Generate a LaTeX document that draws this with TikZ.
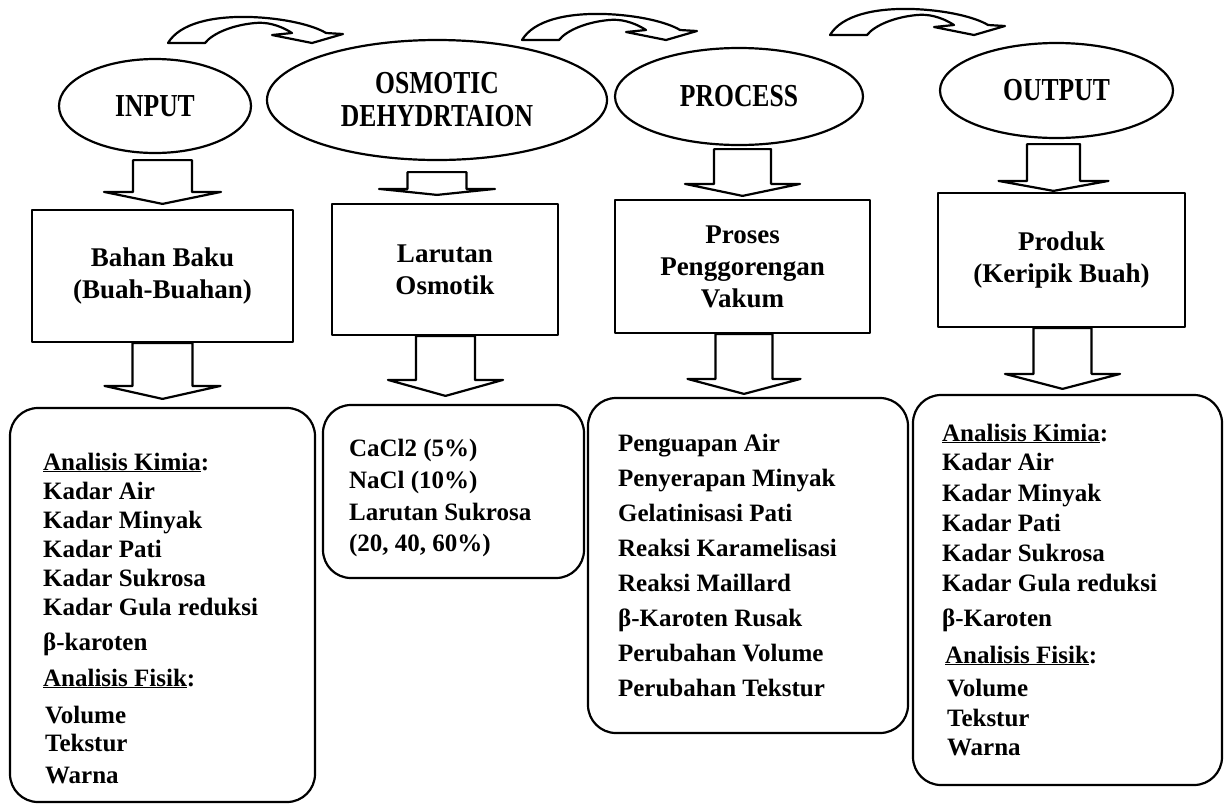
\documentclass[tikz,border=0pt]{standalone}
\usepackage{fontspec}
\setmainfont{Liberation Serif}
\newfontfamily\headfont[FakeStretch=0.8]{Liberation Serif Bold}
\usetikzlibrary{calc,shapes.geometric}
\newcommand\barrow[8]{% from, to, gapTop, gapBottom, shaft half width, head half width, head height, x offset
  \draw[fill=white] let \p1=(#1), \p2=(#2) in
   (\x2+#8pt-#5pt,\y1-#3pt) -- (\x2+#8pt+#5pt,\y1-#3pt) -- (\x2+#8pt+#5pt,\y2+#4pt+#7pt)
   -- (\x2+#8pt+#6pt,\y2+#4pt+#7pt) -- (\x2+#8pt,\y2+#4pt) -- (\x2+#8pt-#6pt,\y2+#4pt+#7pt)
   -- (\x2+#8pt-#5pt,\y2+#4pt+#7pt) -- cycle;}
\begin{document}
\begin{tikzpicture}[x=1pt,y=-1pt,line width=2.2pt,line join=round,
  hd/.style={draw,ellipse,inner sep=0pt,font=\headfont\fontsize{32}{33}\selectfont,align=center},
  bx/.style={draw,rectangle,inner sep=0pt,font=\bfseries\fontsize{27}{32}\selectfont,align=center},
  lst/.style={draw,rectangle,rounded corners=28pt,inner sep=0pt},
  li/.style={anchor=base west,inner sep=0pt,font=\bfseries\fontsize{25}{30}\selectfont},
  curv/.pic={
    \draw[fill=white] (0,0) .. controls (12,-20) and (45,-27) .. (82,-26)
      .. controls (115,-25) and (145,-18) .. (158,-10) -- (175,-9) -- (144,0) -- (104,-8) -- (124,-10)
      .. controls (110,-19) and (97,-21) .. (87,-20) .. controls (65,-18) and (45,-10) .. (37,0) -- cycle;
  }]
\useasboundingbox (0,0) rectangle (1232,807);
% top curved arrows
\pic at (168,43) {curv};
\pic at (522,40) {curv};
\pic at (830,35) {curv};
% heading ellipses
\node[hd,minimum width=192pt,minimum height=94pt] (in) at (155,106) {\raisebox{-11pt}{INPUT}};
\node[hd,minimum width=340pt,minimum height=120pt] (osm) at (437,100) {\raisebox{-5pt}{OSMOTIC}\\\raisebox{-5pt}{DEHYDRTAION}};
\node[hd,minimum width=248pt,minimum height=97pt] (proc) at (739,96.5) {PROCESS};
\node[hd,minimum width=233pt,minimum height=95pt] (out) at (1056.5,90.5) {\raisebox{-5pt}{OUTPUT}};
% middle boxes
\node[bx,minimum width=261pt,minimum height=132pt] (bb) at (162.5,276) {Bahan Baku\\(Buah-Buahan)};
\node[bx,minimum width=226pt,minimum height=131pt] (lar) at (445,269.5) {Larutan\\Osmotik};
\node[bx,minimum width=255pt,minimum height=133pt] (pros) at (742.5,266.5) {Proses\\Penggorengan\\Vakum};
\node[bx,minimum width=247pt,minimum height=134pt] (prod) at (1061.5,260) {Produk\\(Keripik Buah)};
% list boxes
\node[lst,minimum width=305pt,minimum height=394pt] (L1) at (162.5,605) {};
\node[lst,minimum width=261pt,minimum height=173pt] (L2) at (453.5,491.5) {};
\node[lst,minimum width=320pt,minimum height=335pt] (L3) at (748,565.5) {};
\node[lst,minimum width=309pt,minimum height=390pt] (L4) at (1067.5,590) {};
% block arrows
\barrow{in.south}{bb.north}{6}{5}{29.5}{58.5}{12}{0}
\barrow{osm.south}{lar.north}{11}{8}{29.5}{58}{6}{-8}
\barrow{proc.south}{pros.north}{3}{3}{28.5}{57.5}{12}{0}
\barrow{out.south}{prod.north}{5}{1}{26.5}{55}{10}{-8}
\barrow{bb.south}{L1.north}{0}{8}{30}{58}{13}{0}
\barrow{lar.south}{L2.north}{0}{8}{29.5}{57.5}{16}{-8}
\barrow{pros.south}{L3.north}{0}{3}{28.5}{56.5}{15}{-4}
\barrow{prod.south}{L4.north}{0}{5}{29}{57.5}{15}{-5}
% list 1
\node[li] (a1) at (42,470) {\underline{Analisis Kimia}:};
\node[li] (a2) at (42,499) {Kadar Air};
\node[li] (a3) at (42,528) {Kadar Minyak};
\node[li] (a4) at (42,557) {Kadar Pati};
\node[li] (a5) at (42,586) {Kadar Sukrosa};
\node[li] (a6) at (42,615) {Kadar Gula reduksi};
\node[li] (a7) at (42,650) {β-karoten};
\node[li] (a8) at (42,686) {\underline{Analisis Fisik}:};
\node[li] (a9) at (44,723) {Volume};
\node[li] (a10) at (44,751) {Tekstur};
\node[li] (a11) at (44,783) {Warna};
% list 2
\node[li] (b1) at (348,456) {CaCl2 (5\%)};
\node[li] (b2) at (348,488) {NaCl (10\%)};
\node[li] (b3) at (348,520) {Larutan Sukrosa};
\node[li] (b4) at (348,551) {(20, 40, 60\%)};
% list 3
\node[li] (c1) at (617,451) {Penguapan Air};
\node[li] (c2) at (617,486) {Penyerapan Minyak};
\node[li] (c3) at (617,521) {Gelatinisasi Pati};
\node[li] (c4) at (617,556) {Reaksi Karamelisasi};
\node[li] (c5) at (617,591) {Reaksi Maillard};
\node[li] (c6) at (617,626) {β-Karoten Rusak};
\node[li] (c7) at (617,661) {Perubahan Volume};
\node[li] (c8) at (617,696) {Perubahan Tekstur};
% list 4
\node[li] (d1) at (941,441) {\underline{Analisis Kimia}:};
\node[li] (d2) at (941,470) {Kadar Air};
\node[li] (d3) at (941,501) {Kadar Minyak};
\node[li] (d4) at (941,531) {Kadar Pati};
\node[li] (d5) at (941,561) {Kadar Sukrosa};
\node[li] (d6) at (941,591) {Kadar Gula reduksi};
\node[li] (d7) at (941,626) {β-Karoten};
\node[li] (d8) at (944,663) {\underline{Analisis Fisik}:};
\node[li] (d9) at (946,696) {Volume};
\node[li] (d10) at (946,726) {Tekstur};
\node[li] (d11) at (946,755) {Warna};
\end{tikzpicture}
\end{document}
